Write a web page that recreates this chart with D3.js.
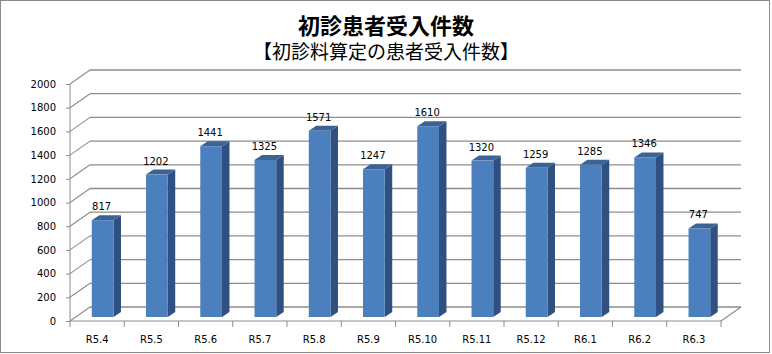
<!DOCTYPE html>
<html>
<head>
<meta charset="utf-8">
<script src="https://cdn.jsdelivr.net/npm/d3@7"></script>
<style>
    body { margin: 0; background: #fff; }
</style>
</head>
<body>
<div id="bar-graph"></div>
<script>
const categories = ["R5.4", "R5.5", "R5.6", "R5.7", "R5.8", "R5.9", "R5.10", "R5.11", "R5.12", "R6.1", "R6.2", "R6.3"];
const values = [817, 1202, 1441, 1325, 1571, 1247, 1610, 1320, 1259, 1285, 1346, 747];
const yTicks = [0, 200, 400, 600, 800, 1000, 1200, 1400, 1600, 1800, 2000];
const titleText = "初診患者受入件数";
const subtitleText = "【初診料算定の患者受入件数】";

const width = 772;
const height = 354;
const font = "'DejaVu Sans', sans-serif";
const jpFont = "'Noto Sans CJK JP', sans-serif";

// depth of the floor / wall, and where the bars sit inside it
const depth = { dx: 20, dy: -14 };
const barOff = { dx: 5.5, dy: -4 };
const barDepth = { dx: 7.5, dy: -5 };

const gridColour = "#8c8c8c";

let svg = d3.select("#bar-graph").append("svg")
    .attr("width", width)
    .attr("height", height);

// chart border
svg.append("rect")
    .attr("x", 0.5)
    .attr("y", 0.5)
    .attr("width", 769)
    .attr("height", 352)
    .attr("fill", "#fff")
    .attr("stroke", "#8a8a8a");

// titles
svg.append("text")
    .attr("x", 386)
    .attr("y", 34)
    .attr("text-anchor", "middle")
    .style("font-family", jpFont)
    .style("font-weight", 700)
    .style("font-size", "22px")
    .text(titleText);

svg.append("text")
    .attr("x", 386)
    .attr("y", 59)
    .attr("text-anchor", "middle")
    .style("font-family", jpFont)
    .style("font-size", "19px")
    .text(subtitleText);

// scales
const x = d3.scaleBand()
    .domain(categories)
    .range([70, 721])
    .paddingInner(0.6)
    .paddingOuter(0.3);

const y = d3.scaleLinear()
    .domain([0, 2000])
    .range([321, 84]);

const x0 = x.range()[0];
const x1 = x.range()[1];

// back wall gridlines
svg.append("g")
    .selectAll("line")
    .data(yTicks)
    .enter()
    .append("line")
    .attr("x1", x0 + depth.dx)
    .attr("x2", x1 + depth.dx)
    .attr("y1", d => y(d) + depth.dy)
    .attr("y2", d => y(d) + depth.dy)
    .attr("stroke", gridColour)
    .attr("stroke-width", 1.3);

// side wall diagonals
svg.append("g")
    .selectAll("line")
    .data(yTicks)
    .enter()
    .append("line")
    .attr("x1", x0)
    .attr("x2", x0 + depth.dx)
    .attr("y1", d => y(d))
    .attr("y2", d => y(d) + depth.dy)
    .attr("stroke", gridColour)
    .attr("stroke-width", 1.1);

// floor right edge
svg.append("line")
    .attr("x1", x1)
    .attr("y1", y(0))
    .attr("x2", x1 + depth.dx)
    .attr("y2", y(0) + depth.dy)
    .attr("stroke", gridColour)
    .attr("stroke-width", 1.1);

// y axis
const yAxis = svg.append("g")
    .attr("transform", `translate(${x0}, 0)`)
    .style("font-family", font)
    .style("font-size", "10px")
    .call(d3.axisLeft(y)
        .tickValues(yTicks)
        .tickSize(4)
        .tickPadding(10)
        .tickFormat(d3.format("d"))
    );
yAxis.selectAll("line, path").attr("stroke", gridColour);
yAxis.select(".domain").attr("d", `M0,${y(2000)}V${y(0)}`);
yAxis.selectAll("text").attr("fill", "#000");

// x axis: ticks at category boundaries
const xAxis = svg.append("g")
    .attr("transform", `translate(0, ${y(0)})`)
    .style("font-family", font)
    .style("font-size", "10px");
xAxis.append("line")
    .attr("x1", x0)
    .attr("x2", x1)
    .attr("stroke", gridColour)
    .attr("stroke-width", 1.1);
xAxis.selectAll(".tick-mark")
    .data(d3.range(categories.length + 1))
    .enter()
    .append("line")
    .attr("class", "tick-mark")
    .attr("x1", i => x0 + i * x.step())
    .attr("x2", i => x0 + i * x.step())
    .attr("y1", 0)
    .attr("y2", 6)
    .attr("stroke", gridColour);
xAxis.selectAll(".tick-label")
    .data(categories)
    .enter()
    .append("text")
    .attr("class", "tick-label")
    .attr("x", d => x(d) + x.bandwidth() / 2)
    .attr("y", 22)
    .attr("text-anchor", "middle")
    .attr("fill", "#000")
    .text(d => d);

// 3d bars
const bw = x.bandwidth();
const bars = svg.append("g")
    .selectAll("g")
    .data(categories.map((c, i) => ({ cat: c, value: values[i] })))
    .enter()
    .append("g");

const pts = p => p.map(q => q.join(",")).join(" ");

function corners(d) {
    const l = x(d.cat) + barOff.dx;
    const r = l + bw;
    const b = y(0) + barOff.dy;
    const t = y(d.value) + barOff.dy;
    return { l, r, b, t };
}

// side face
bars.append("polygon")
    .attr("fill", "#2f5080")
    .attr("points", d => {
        const c = corners(d);
        return pts([[c.r, c.t], [c.r + barDepth.dx, c.t + barDepth.dy],
            [c.r + barDepth.dx, c.b + barDepth.dy], [c.r, c.b]]);
    });

// top face
bars.append("polygon")
    .attr("fill", "#3c6396")
    .attr("points", d => {
        const c = corners(d);
        return pts([[c.l, c.t], [c.l + barDepth.dx, c.t + barDepth.dy],
            [c.r + barDepth.dx, c.t + barDepth.dy], [c.r, c.t]]);
    });

// front face
bars.append("rect")
    .attr("fill", "#4c7fbe")
    .attr("x", d => corners(d).l)
    .attr("y", d => corners(d).t)
    .attr("width", bw)
    .attr("height", d => corners(d).b - corners(d).t);

// value labels
bars.append("text")
    .attr("x", d => corners(d).l + bw / 2 - 1)
    .attr("y", d => corners(d).t - 10)
    .attr("text-anchor", "middle")
    .style("font-family", font)
    .style("font-size", "10px")
    .attr("fill", "#000")
    .text(d => d.value);
</script>
</body>
</html>
